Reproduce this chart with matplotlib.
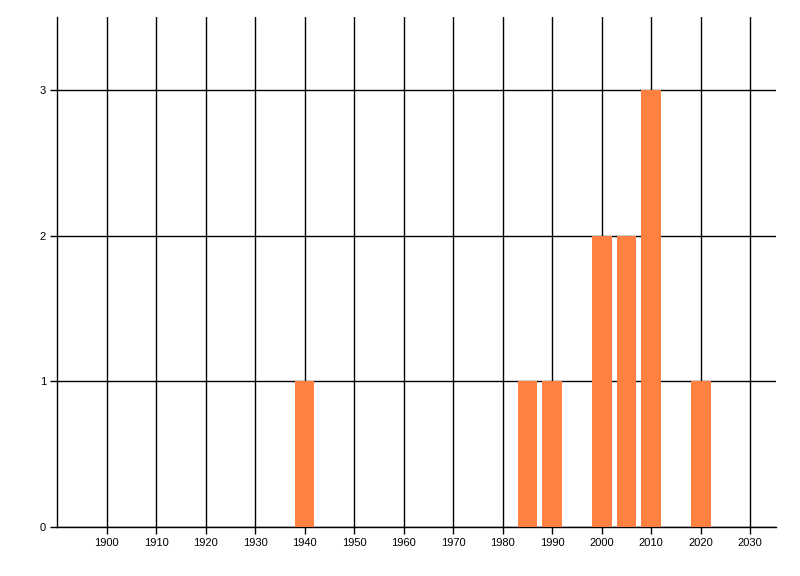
import matplotlib
matplotlib.use('Agg')
import matplotlib.pyplot as plt

# Counts per year
years = [1940, 1985, 1990, 2000, 2005, 2010, 2020]
counts = [1, 1, 1, 2, 2, 3, 1]

x_ticks = list(range(1900, 2031, 10))
y_ticks = [0, 1, 2, 3]

plt.rcParams['font.family'] = ['Liberation Sans', 'DejaVu Sans']

fig = plt.figure(figsize=(8, 5.76), dpi=100)
ax = fig.add_axes([57 / 800, 1 - 527 / 576, (776 - 57) / 800, (527 - 17) / 576])

ax.bar(years, counts, width=4, color='#ff8040', zorder=3)

ax.set_xlim(1890, 2035.2)
ax.set_ylim(0, 3.5)
ax.set_xticks(x_ticks)
ax.set_xticklabels([str(t) for t in x_ticks])
ax.set_yticks(y_ticks)

ax.grid(True, color='black', linewidth=1, zorder=1)
ax.tick_params(axis='both', length=5, width=1, color='black', labelsize=8, pad=3)
for side in ['top', 'right']:
    ax.spines[side].set_visible(False)
for side in ['left', 'bottom']:
    ax.spines[side].set_linewidth(1)

fig.savefig('out.png', dpi=100)
